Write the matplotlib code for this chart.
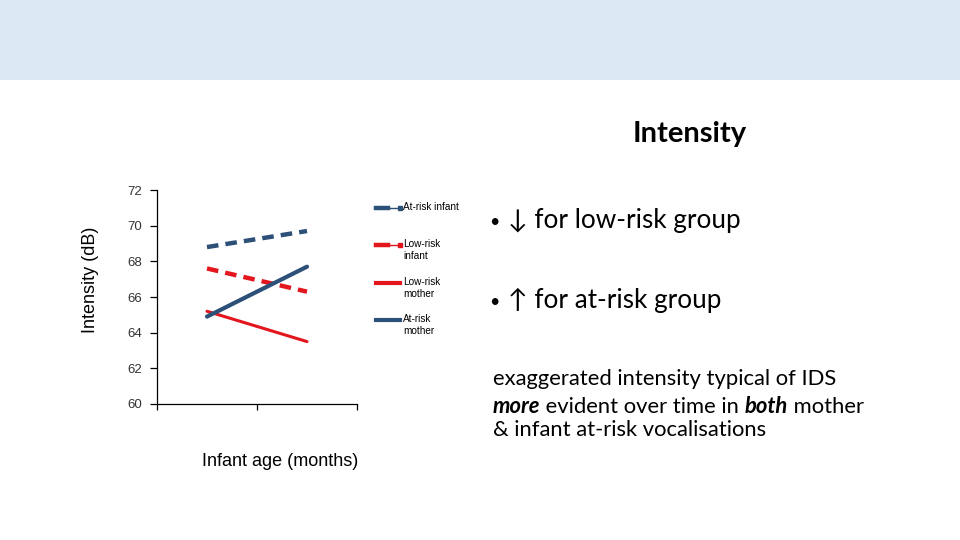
import matplotlib
matplotlib.use("Agg")
import matplotlib.pyplot as plt
from matplotlib.lines import Line2D
from matplotlib.patches import Rectangle

# ---- data ----
ages = ["Age 1", "Age 2"]
at_risk_infant = [68.8, 69.7]
low_risk_infant = [67.6, 66.3]
low_risk_mother = [65.2, 63.5]
at_risk_mother = [64.9, 67.7]
yticks = [60, 62, 64, 66, 68, 70, 72]

BLUE = "#2C5078"
RED = "#E3161D"
W, H = 960, 540

fig = plt.figure(figsize=(9.6, 5.4), dpi=100)
fig.patch.set_facecolor("white")

def fx(px):
    return px / W

def fy(py):
    return 1 - py / H

# top band
fig.add_artist(Rectangle((0, fy(80)), 1, 80 / H, transform=fig.transFigure,
                         facecolor="#DDE8F5", edgecolor="none", zorder=0))

ax = fig.add_axes([fx(157), fy(404), fx(357) - fx(157), fy(190) - fy(404)])
ax.set_facecolor("none")
xpos = [0.5, 1.5]
ax.plot(xpos, at_risk_infant, color=BLUE, lw=3.2, dashes=(2.6, 1.6))
ax.plot(xpos, low_risk_infant, color=RED, lw=3.2, dashes=(2.6, 1.6))
ax.plot(xpos, low_risk_mother, color=RED, lw=2.2, solid_capstyle="round")
ax.plot(xpos, at_risk_mother, color=BLUE, lw=3.0, solid_capstyle="round")

ax.set_xlim(0, 2)
ax.set_ylim(60, 72)
ax.set_yticks(yticks)
ax.set_xticks([0, 1, 2])
ax.set_xticklabels([])
for s in ["top", "right"]:
    ax.spines[s].set_visible(False)
for s in ["left", "bottom"]:
    ax.spines[s].set_color("black")
    ax.spines[s].set_linewidth(0.9)
ax.tick_params(axis="y", direction="out", length=5, width=0.9, pad=6,
               labelsize=9.5, labelcolor="#333333")
ax.tick_params(axis="x", direction="out", length=4, width=0.9)
for lab in ax.get_yticklabels():
    lab.set_fontfamily("Liberation Sans")

ax.set_ylabel("Intensity (dB)", fontsize=13, family="Liberation Sans")
ax.yaxis.set_label_coords(-0.29, 0.58)
fig.text(fx(280), fy(462), "Infant age (months)", fontsize=13,
         family="Liberation Sans", ha="center", va="center")

# legend (manual layout)
def leg_line(y, color, dashed):
    if dashed:
        fig.add_artist(Line2D([fx(376), fx(388)], [fy(y), fy(y)], color=color, lw=3.2,
                              transform=fig.transFigure))
        fig.add_artist(Line2D([fx(388), fx(398)], [fy(y), fy(y)], color=color, lw=1.0,
                              transform=fig.transFigure))
        fig.add_artist(Line2D([fx(400)], [fy(y)], color=color, marker="s", ms=3.5, lw=0,
                              transform=fig.transFigure))
    else:
        fig.add_artist(Line2D([fx(376), fx(400)], [fy(y), fy(y)], color=color, lw=3.0,
                              transform=fig.transFigure))

legend_items = [("At-risk infant", BLUE, True, 208),
                ("Low-risk\ninfant", RED, True, 245),
                ("Low-risk\nmother", RED, False, 283),
                ("At-risk\nmother", BLUE, False, 320)]
for label, col, dashed, y in legend_items:
    leg_line(y, col, dashed)
    fig.text(fx(403), fy(y - 6), label, fontsize=7.2, family="Liberation Sans",
             ha="left", va="top", linespacing=1.2)

FAM = ["Lato", "DejaVu Sans"]
# title and bullets
fig.text(fx(690), fy(142), "Intensity", fontsize=21, weight="bold",
         family=FAM, ha="center", va="baseline")
for yb, txt in [(228, "↓ for low-risk group"), (308, "↑ for at-risk group")]:
    fig.text(fx(489), fy(yb - 1), "•", fontsize=13, family=FAM,
             ha="left", va="baseline")
    fig.text(fx(508), fy(yb), txt, fontsize=18.8, family=FAM,
             ha="left", va="baseline")

FS = 15.8
fig.text(fx(493), fy(385), "exaggerated intensity typical of IDS", fontsize=FS,
         family=FAM, ha="left", va="baseline")
t = fig.text(fx(493), fy(417), "more", fontsize=FS, family=FAM, weight="bold",
             style="italic", ha="left", va="bottom")
pieces = [(" evident over time in ", "normal", "normal"),
          ("both", "bold", "italic"),
          (" mother", "normal", "normal")]
last = t
for txt, w, st in pieces:
    last = ax.annotate(txt, xy=(1, 0), xycoords=last, fontsize=FS, family=FAM,
                       weight=w, style=st, ha="left", va="bottom",
                       annotation_clip=False)
fig.text(fx(493), fy(436), "& infant at-risk vocalisations", fontsize=FS,
         family=FAM, ha="left", va="baseline")

fig.savefig("out.png", dpi=100)
